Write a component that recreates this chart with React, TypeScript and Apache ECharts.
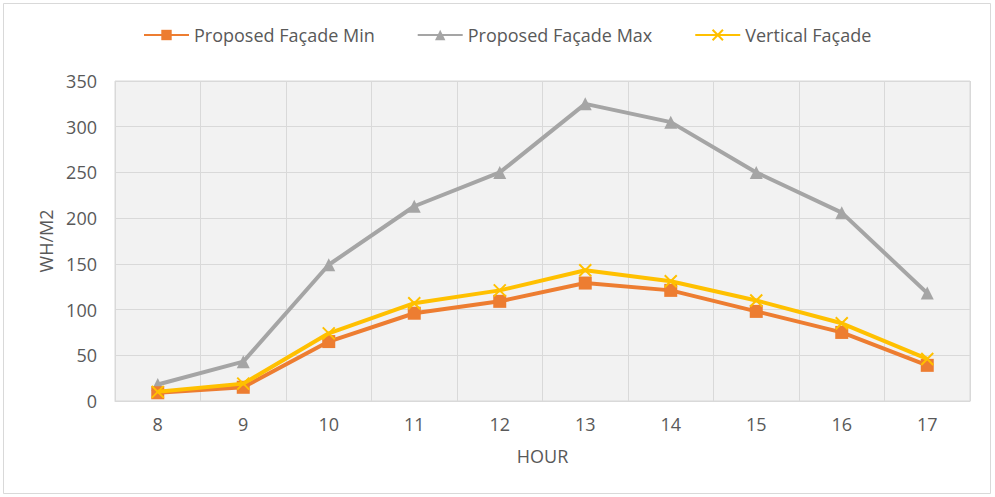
import React, { useEffect, useRef } from "react";
import * as echarts from "echarts";

const hours = ["8", "9", "10", "11", "12", "13", "14", "15", "16", "17"];
const proposedMin = [9, 15, 65, 96, 109, 129, 121, 98, 75, 39];
const proposedMax = [18, 43, 149, 213, 250, 325, 305, 250, 206, 118];
const verticalFacade = [10, 19, 74, 107, 121, 143, 131, 110, 85, 46];

const textColor = "#595959";
const gridColor = "#d9d9d9";
const font = "'Open Sans', 'Noto Sans', sans-serif";

export default function App() {
  const ref = useRef<HTMLDivElement>(null);

  useEffect(() => {
    if (!ref.current) return;
    const chart = echarts.init(ref.current, null, { renderer: "svg" });
    chart.setOption({
      animation: false,
      backgroundColor: "#ffffff",
      textStyle: { fontFamily: font, color: textColor },
      graphic: [
        {
          type: "rect",
          shape: { x: 3.5, y: 3.5, width: 987, height: 490 },
          style: { fill: "none", stroke: gridColor, lineWidth: 1 },
          silent: true,
        },
      ],
      legend: {
        top: 21,
        left: 138,
        itemWidth: 45,
        itemHeight: 13,
        itemGap: 42,
        textStyle: { fontSize: 18, color: textColor, fontFamily: font },
        data: ["Proposed Façade Min", "Proposed Façade Max", "Vertical Façade"],
      },
      grid: {
        left: 115,
        right: 25,
        top: 81,
        bottom: 96,
        show: true,
        backgroundColor: "#f2f2f2",
        borderColor: gridColor,
        borderWidth: 1,
        containLabel: false,
      },
      xAxis: {
        type: "category",
        data: hours,
        boundaryGap: true,
        name: "HOUR",
        nameLocation: "middle",
        nameGap: 46,
        nameTextStyle: { fontSize: 18, color: textColor },
        axisLine: { show: true, lineStyle: { color: gridColor, width: 1 } },
        axisTick: { show: false },
        axisLabel: { fontSize: 18, color: textColor, margin: 14 },
        splitLine: { show: true, lineStyle: { color: gridColor, width: 1 } },
      },
      yAxis: {
        type: "value",
        min: 0,
        max: 350,
        interval: 50,
        name: "WH/M2",
        nameLocation: "middle",
        nameGap: 58,
        nameRotate: 90,
        nameTextStyle: { fontSize: 18, color: textColor },
        axisLine: { show: false },
        axisTick: { show: false },
        axisLabel: { fontSize: 18, color: textColor, margin: 18 },
        splitLine: { show: true, lineStyle: { color: gridColor, width: 1 } },
      },
      series: [
        {
          name: "Proposed Façade Min",
          type: "line",
          data: proposedMin,
          symbol: "rect",
          symbolSize: 13,
          lineStyle: { color: "#ED7D31", width: 4 },
          itemStyle: { color: "#ED7D31" },
          z: 2,
        },
        {
          name: "Proposed Façade Max",
          type: "line",
          data: proposedMax,
          symbol: "triangle",
          symbolSize: 13,
          lineStyle: { color: "#A5A5A5", width: 4 },
          itemStyle: { color: "#A5A5A5" },
          z: 1,
        },
        {
          name: "Vertical Façade",
          type: "line",
          data: verticalFacade,
          symbol: "path://M0,0 L10,10 M10,0 L0,10",
          symbolSize: 12,
          lineStyle: { color: "#FFC000", width: 4 },
          itemStyle: { color: "#FFC000", borderColor: "#FFC000", borderWidth: 2 },
          z: 3,
        },
      ],
    });
    return () => chart.dispose();
  }, []);

  return (
    <div
      ref={ref}
      style={{ position: "fixed", left: 0, top: 0, width: 995, height: 497 }}
    />
  );
}
